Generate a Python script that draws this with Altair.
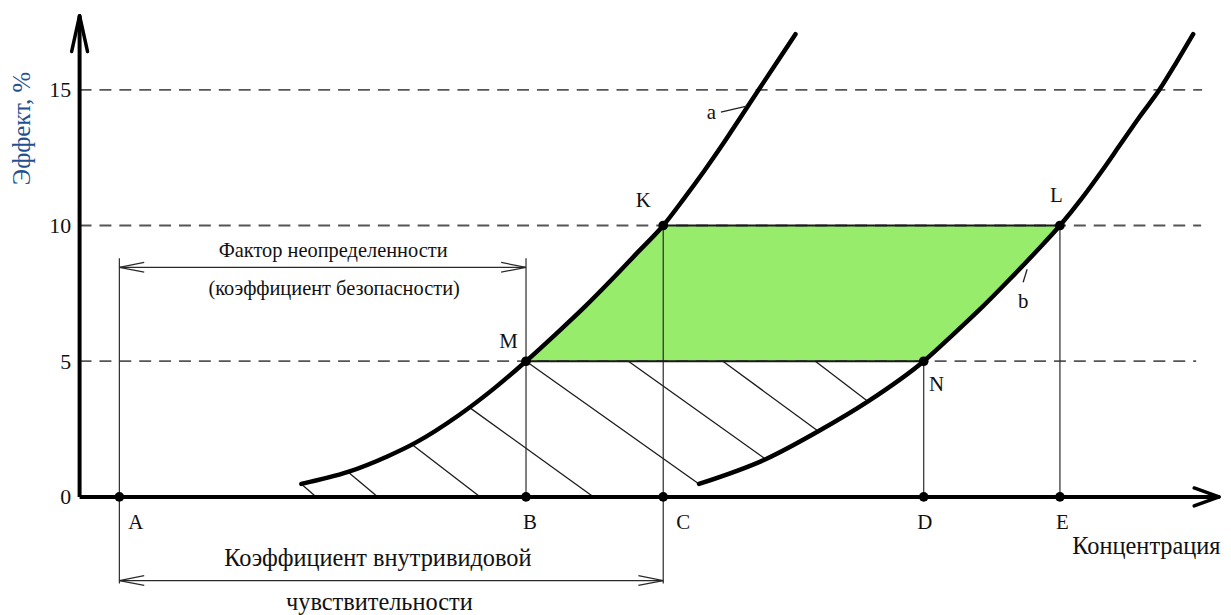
import altair as alt
import pandas as pd

FONT = "Liberation Serif"

# ---- data (concentration units, effect %) ----
curve_a_y = [0.48, 0.92, 1.5, 2, 3, 4, 5, 6, 7, 8, 9, 10, 11, 12, 13, 14, 15, 16, 17.05]
curve_a_x = [22.3, 27.0, 31.0, 33.8, 38.1, 41.7, 44.9, 47.9, 50.8, 53.5, 56.1, 58.7,
             60.8, 62.8, 64.7, 66.5, 68.3, 70.1, 72.0]
curve_b_y = [0.48, 1.39, 2.42, 3.52, 5, 6, 7, 8, 9, 10, 11, 12, 13, 14, 15, 16, 17.05]
curve_b_x = [62.3, 69.0, 74.3, 79.3, 84.9, 87.9, 90.8, 93.5, 96.1, 98.6, 100.8, 102.8,
             104.7, 106.6, 108.6, 110.3, 112.0]

# named points
pt_names = ["A", "B", "C", "D", "E", "M", "K", "L", "N"]
pt_x = [4.0, 44.9, 58.7, 84.9, 98.6, 44.9, 58.7, 98.6, 84.9]
pt_y = [0, 0, 0, 0, 0, 5, 10, 10, 5]

# hatching segments
hatch_x1 = [22.3, 27.0, 33.4, 39.2, 44.9, 55.2, 64.7, 74.0]
hatch_y1 = [0.48, 0.92, 1.94, 3.30, 5.0, 5.0, 5.0, 5.0]
hatch_x2 = [23.8, 30.0, 40.3, 51.7, 62.3, 69.0, 74.3, 79.3]
hatch_y2 = [0.0, 0.0, 0.0, 0.0, 0.48, 1.39, 2.42, 3.52]

# thin vertical guides
guide_x = [4.0, 44.9, 58.7, 84.9, 98.6]
guide_top = [8.79, 8.79, 10, 5, 10]
guide_bot = [-3.19, 0, -3.19, 0, 0]

# dashed reference levels
level_y = [5, 10, 15]
level_end = [112.3, 112.8, 112.9]

# solid horizontal edges of green zone
edge_y = [5, 10]
edge_x1 = [44.9, 58.7]
edge_x2 = [84.9, 98.6]

# dimension lines
dim_y = [8.46, -3.08]
dim_x1 = [4.0, 4.0]
dim_x2 = [44.9, 58.7]

# axes
y_ticks = [0, 5, 10, 15]
yaxis_top = 17.73
xaxis_end = 114.6

# labels
letter_text = ["A", "B", "C", "D", "E", "K", "L", "M", "N", "a", "b"]
letter_x = [5.65, 45.3, 60.7, 85.0, 98.85, 56.7, 98.25, 43.15, 86.2, 63.55, 94.9]
letter_y = [-1.17, -1.17, -1.17, -1.17, -1.17, 10.70, 10.88, 5.49, 3.92, 13.92, 6.96]

upper_text = ["Фактор неопределенности", "(коэффициент безопасности)"]
upper_x = [25.5, 25.6]
upper_y = [8.83, 7.44]

lower_text = ["Коэффициент внутривидовой", "чувствительности", "Концентрация"]
lower_x = [30.0, 30.15, 107.3]
lower_y = [-2.53, -4.18, -2.09]

leader_x1 = [64.5, 94.9]
leader_y1 = [14.18, 7.91]
leader_x2 = [67.1, 95.3]
leader_y2 = [14.40, 8.39]

# ---- scales ----
X_DOMAIN = [0, 115]
Y_DOMAIN = [-4.469, 17.949]

xscale = alt.Scale(domain=X_DOMAIN, nice=False, zero=False)
yscale = alt.Scale(domain=Y_DOMAIN, nice=False, zero=False)
yaxis = alt.Axis(values=y_ticks, domain=False, ticks=False, grid=False,
                 labelFont=FONT, labelFontSize=22, labelColor="#111", labelPadding=9,
                 title="Эффект, %", titleFont=FONT, titleFontSize=25,
                 titleFontWeight="normal", titleColor="#24508F", titleAngle=270,
                 titleX=-58, titleY=119, titleAlign="center", titleBaseline="middle")


def X(f):
    return alt.X(f, type="quantitative", scale=xscale, axis=None)


def Y(f):
    return alt.Y(f, type="quantitative", scale=yscale, axis=yaxis)


# ---- tables ----
a_map = dict(zip(curve_a_y, curve_a_x))
b_map = dict(zip(curve_b_y, curve_b_x))
zone_y = [y for y in curve_a_y if 5 <= y <= 10 and y in b_map]
zone = pd.DataFrame({"y": zone_y, "xa": [a_map[y] for y in zone_y],
                     "xb": [b_map[y] for y in zone_y]})

ca = pd.DataFrame({"x": curve_a_x, "y": curve_a_y})
cb = pd.DataFrame({"x": curve_b_x, "y": curve_b_y})
pts = pd.DataFrame({"name": pt_names, "x": pt_x, "y": pt_y})
hatch = pd.DataFrame({"x": hatch_x1, "y": hatch_y1, "x2": hatch_x2, "y2": hatch_y2})
guides = pd.DataFrame({"x": guide_x, "y": guide_top, "y2": guide_bot})
levels = pd.DataFrame({"y": level_y, "x": [0] * len(level_y), "x2": level_end})
edges = pd.DataFrame({"y": edge_y, "x": edge_x1, "x2": edge_x2})
dims = pd.DataFrame({"y": dim_y, "x": dim_x1, "x2": dim_x2})
leaders = pd.DataFrame({"x": leader_x1, "y": leader_y1, "x2": leader_x2, "y2": leader_y2})

# arrowheads of the dimension lines (open, thin)
WDX, WDY = 2.5, 0.18
heads = []
for y, x1, x2 in zip(dim_y, dim_x1, dim_x2):
    for s in (1, -1):
        heads.append({"x": x1, "y": y, "x2": x1 + WDX, "y2": y + s * WDY})
        heads.append({"x": x2, "y": y, "x2": x2 - WDX, "y2": y + s * WDY})
heads = pd.DataFrame(heads)

axes_lines = pd.DataFrame({"x": [0, 0], "y": [0, 0], "x2": [0, xaxis_end], "y2": [yaxis_top, 0]})
axis_heads = pd.DataFrame({
    "x": [0, 0, xaxis_end, xaxis_end],
    "y": [yaxis_top, yaxis_top, 0, 0],
    "x2": [-0.8, 0.8, xaxis_end - 2.5, xaxis_end - 2.5],
    "y2": [yaxis_top - 1.32, yaxis_top - 1.32, 0.33, -0.33],
})

letters = pd.DataFrame({"t": letter_text, "x": letter_x, "y": letter_y})
uppers = pd.DataFrame({"t": upper_text, "x": upper_x, "y": upper_y})
lowers = pd.DataFrame({"t": lower_text, "x": lower_x, "y": lower_y})

# ---- layers ----
green = alt.Chart(zone).mark_area(orient="horizontal", color="#97EC6C", opacity=1,
                                  interpolate="monotone").encode(
    y=Y("y"), x=X("xa"), x2="xb")

dashed = alt.Chart(levels).mark_rule(color="#555555", strokeWidth=1.8, strokeDash=[12, 8]).encode(
    y=Y("y"), x=X("x"), x2="x2")

hatch_l = alt.Chart(hatch).mark_rule(color="#1a1a1a", strokeWidth=1.3).encode(
    x=X("x"), y=Y("y"), x2="x2", y2="y2")

guide_l = alt.Chart(guides).mark_rule(color="#2a2a2a", strokeWidth=1.2).encode(
    x=X("x"), y=Y("y"), y2="y2")

dim_l = alt.Chart(dims).mark_rule(color="#2a2a2a", strokeWidth=1.2).encode(
    y=Y("y"), x=X("x"), x2="x2")

head_l = alt.Chart(heads).mark_rule(color="#2a2a2a", strokeWidth=1.2).encode(
    x=X("x"), y=Y("y"), x2="x2", y2="y2")

edge_l = alt.Chart(edges).mark_rule(color="#1a1a1a", strokeWidth=2).encode(
    y=Y("y"), x=X("x"), x2="x2")

line_a = alt.Chart(ca).mark_line(color="black", strokeWidth=4.5, strokeCap="round",
                                 interpolate="monotone").encode(
    x=X("x"), y=Y("y"), order="y:Q")
line_b = alt.Chart(cb).mark_line(color="black", strokeWidth=4.5, strokeCap="round",
                                 interpolate="monotone").encode(
    x=X("x"), y=Y("y"), order="y:Q")

axis_l = alt.Chart(axes_lines).mark_rule(color="black", strokeWidth=4).encode(
    x=X("x"), y=Y("y"), x2="x2", y2="y2")
axis_h = alt.Chart(axis_heads).mark_rule(color="black", strokeWidth=3.5, strokeCap="round").encode(
    x=X("x"), y=Y("y"), x2="x2", y2="y2")

leader_l = alt.Chart(leaders).mark_rule(color="#222", strokeWidth=1.3).encode(
    x=X("x"), y=Y("y"), x2="x2", y2="y2")

dots = alt.Chart(pts).mark_circle(size=95, color="black", opacity=1).encode(
    x=X("x"), y=Y("y"))

letters_t = alt.Chart(letters).mark_text(font=FONT, fontSize=21, color="#111",
                                          align="center", baseline="alphabetic").encode(
    x=X("x"), y=Y("y"), text="t:N")
uppers_t = alt.Chart(uppers).mark_text(font=FONT, fontSize=20.5, color="#111",
                                        align="center", baseline="alphabetic").encode(
    x=X("x"), y=Y("y"), text="t:N")
lowers_t = alt.Chart(lowers).mark_text(font=FONT, fontSize=24.5, color="#111",
                                        align="center", baseline="alphabetic").encode(
    x=X("x"), y=Y("y"), text="t:N")

chart = alt.layer(
    green, dashed, hatch_l, guide_l, dim_l, head_l, edge_l, line_a, line_b,
    axis_l, axis_h, leader_l, dots, letters_t, uppers_t, lowers_t
).properties(
    width=1150, height=612,
    padding={"left": 72, "top": 0, "right": 0, "bottom": 0},
    autosize=alt.AutoSizeParams(type="none"),
).configure_view(stroke=None)

chart.save("out.html", embed_options={"renderer": "svg", "actions": False})
